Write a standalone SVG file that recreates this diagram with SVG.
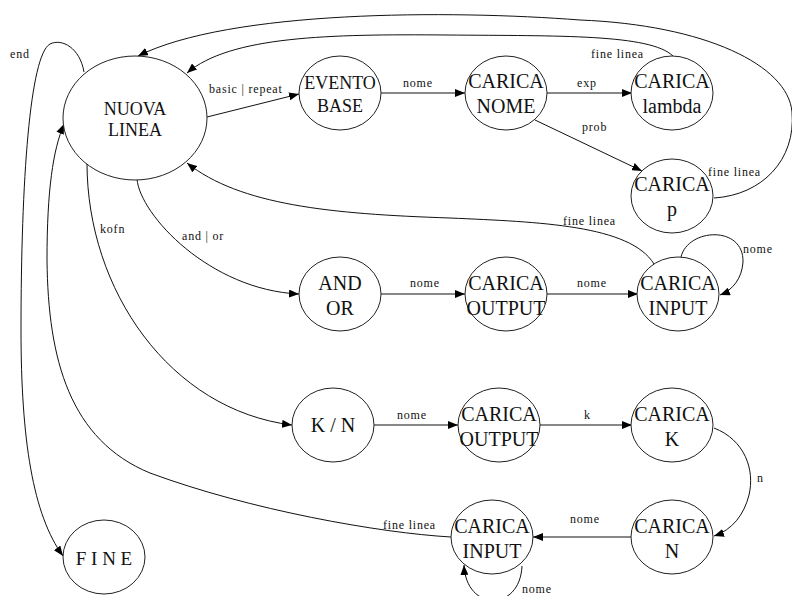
<svg xmlns="http://www.w3.org/2000/svg" width="792" height="596" viewBox="0 0 792 596">
  <style>
    .node ellipse { fill: #fff; stroke: #222; stroke-width: 1; }
    .node text { font-family: "Liberation Serif", "Times New Roman", serif; font-size: 20px; fill: #111; text-anchor: middle; }
    .node text.sm { font-size: 18px; }
    .edge { fill: none; stroke: #111; stroke-width: 1; marker-end: url(#arrow); }
    .lbl { font-family: "Liberation Serif", "Times New Roman", serif; font-size: 12px; letter-spacing: 0.8px; fill: #111; }
  </style>
  <defs>
    <marker id="arrow" viewBox="0 0 10 8" refX="10" refY="4" markerWidth="10" markerHeight="8" markerUnits="userSpaceOnUse" orient="auto">
      <path d="M0,0 L10,4 L0,8 z" fill="#000"/>
    </marker>
  </defs>
  <rect width="792" height="596" fill="#fff"/>

  <!-- connectors -->
  <g id="connectors">
    <path class="edge" d="M84,72 C80,48 62,38 50,44 C30,55 21,180 21,330 C21,440 33,515 63,556"/>
    <path class="edge" d="M207,117 L299,94"/>
    <path class="edge" d="M381,93 L465,93"/>
    <path class="edge" d="M547,93 L632,93"/>
    <path class="edge" d="M535,120 L642,171"/>
    <path class="edge" d="M673,56 C650,34 560,36 447,35 C330,34 230,36 187,73"/>
    <path class="edge" d="M714,198 C762,195 796,160 792,112 C788,65 705,25 580,20 C450,10 230,10 138,56"/>
    <path class="edge" d="M654,264 C630,225 540,222 450,218 C330,214 240,205 187,163"/>
    <path class="edge" d="M137,179 C140,215 210,290 299,294"/>
    <path class="edge" d="M381,294 L465,294"/>
    <path class="edge" d="M547,294 L638,294"/>
    <path class="edge" d="M681,257 C688,228 744,225 743,262 C742,278 733,290 720,295"/>
    <path class="edge" d="M87,163 C87,290 170,410 292,425"/>
    <path class="edge" d="M374,425 L458,425"/>
    <path class="edge" d="M540,425 L632,425"/>
    <path class="edge" d="M714,428 C745,440 755,470 749,495 C744,515 732,530 714,536"/>
    <path class="edge" d="M632,537 L533,537"/>
    <path class="edge" d="M522,566 C520,612 466,612 464,565"/>
    <path class="edge" d="M451,537 C380,533 250,510 150,473 C70,440 48,360 47,260 C47,190 53,150 64,124"/>

    <text class="lbl" x="10" y="58">end</text>
    <text class="lbl" x="209" y="93">basic | repeat</text>
    <text class="lbl" x="403" y="87">nome</text>
    <text class="lbl" x="577" y="87">exp</text>
    <text class="lbl" x="591" y="58">fine linea</text>
    <text class="lbl" x="582" y="131">prob</text>
    <text class="lbl" x="708" y="176">fine linea</text>
    <text class="lbl" x="563" y="225">fine linea</text>
    <text class="lbl" x="182" y="240">and | or</text>
    <text class="lbl" x="100" y="233">kofn</text>
    <text class="lbl" x="410" y="287">nome</text>
    <text class="lbl" x="577" y="287">nome</text>
    <text class="lbl" x="743" y="253">nome</text>
    <text class="lbl" x="397" y="419">nome</text>
    <text class="lbl" x="584" y="419">k</text>
    <text class="lbl" x="757" y="482">n</text>
    <text class="lbl" x="570" y="523">nome</text>
    <text class="lbl" x="383" y="529">fine linea</text>
    <text class="lbl" x="522" y="593">nome</text>
  </g>

  <!-- states -->
  <g id="nuova-linea" class="node">
    <ellipse cx="135" cy="118" rx="72" ry="62"/>
    <text class="sm" x="135" y="115">NUOVA</text>
    <text class="sm" x="135" y="136">LINEA</text>
  </g>
  <g id="evento-base" class="node">
    <ellipse cx="340" cy="93" rx="41" ry="37"/>
    <text class="sm" x="340" y="89">EVENTO</text>
    <text class="sm" x="340" y="112">BASE</text>
  </g>
  <g id="carica-nome" class="node">
    <ellipse cx="506" cy="93" rx="41" ry="37"/>
    <text x="506" y="88">CARICA</text>
    <text x="506" y="113">NOME</text>
  </g>
  <g id="carica-lambda" class="node">
    <ellipse cx="672" cy="93" rx="41" ry="37"/>
    <text x="672" y="88">CARICA</text>
    <text x="672" y="113">lambda</text>
  </g>
  <g id="carica-p" class="node">
    <ellipse cx="672" cy="196" rx="41" ry="37"/>
    <text x="672" y="191">CARICA</text>
    <text x="672" y="216">p</text>
  </g>
  <g id="and-or" class="node">
    <ellipse cx="340" cy="294" rx="41" ry="37"/>
    <text x="340" y="290">AND</text>
    <text x="340" y="315">OR</text>
  </g>
  <g id="carica-output-1" class="node">
    <ellipse cx="506" cy="294" rx="41" ry="37"/>
    <text x="506" y="290">CARICA</text>
    <text x="506" y="315">OUTPUT</text>
  </g>
  <g id="carica-input-1" class="node">
    <ellipse cx="678" cy="294" rx="41" ry="37"/>
    <text x="678" y="290">CARICA</text>
    <text x="678" y="315">INPUT</text>
  </g>
  <g id="k-n" class="node">
    <ellipse cx="333" cy="425" rx="41" ry="37"/>
    <text x="333" y="432">K / N</text>
  </g>
  <g id="carica-output-2" class="node">
    <ellipse cx="499" cy="425" rx="41" ry="37"/>
    <text x="499" y="421">CARICA</text>
    <text x="499" y="446">OUTPUT</text>
  </g>
  <g id="carica-k" class="node">
    <ellipse cx="672" cy="425" rx="41" ry="37"/>
    <text x="672" y="421">CARICA</text>
    <text x="672" y="446">K</text>
  </g>
  <g id="carica-n" class="node">
    <ellipse cx="672" cy="537" rx="41" ry="37"/>
    <text x="672" y="533">CARICA</text>
    <text x="672" y="558">N</text>
  </g>
  <g id="carica-input-2" class="node">
    <ellipse cx="492" cy="537" rx="41" ry="37"/>
    <text x="492" y="533">CARICA</text>
    <text x="492" y="558">INPUT</text>
  </g>
  <g id="fine" class="node">
    <ellipse cx="104" cy="557" rx="41" ry="37"/>
    <text x="104" y="565" style="font-size:19px">F I N E</text>
  </g>
</svg>
